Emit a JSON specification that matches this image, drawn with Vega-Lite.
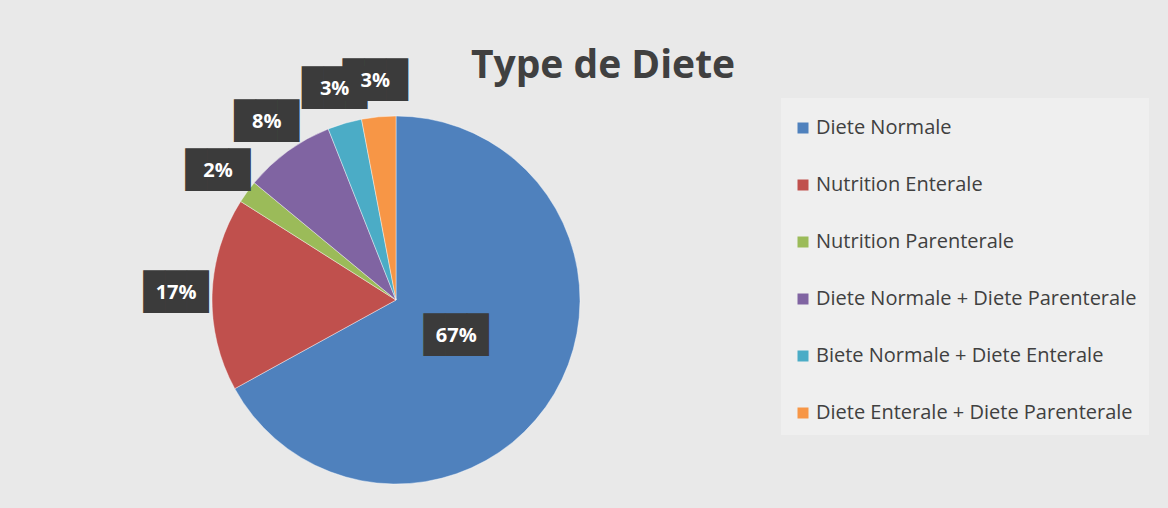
{
  "$schema": "https://vega.github.io/schema/vega-lite/v6.json",
  "width": 776,
  "height": 368,
  "autosize": {"type": "none"},
  "padding": {"left": 8, "top": 116, "right": 384, "bottom": 24},
  "background": "#e9e9e9",
  "title": {
    "text": "Type de Diete",
    "font": "Open Sans",
    "fontSize": 39,
    "fontWeight": "bold",
    "color": "#404040",
    "dx": 207,
    "offset": -23
  },
  "data": {
    "values": [
      {"category": "Diete Normale", "share": 0.67},
      {"category": "Nutrition Enterale", "share": 0.17},
      {"category": "Nutrition Parenterale", "share": 0.02},
      {"category": "Diete Normale + Diete Parenterale", "share": 0.08},
      {"category": "Biete Normale + Diete Enterale", "share": 0.03},
      {"category": "Diete Enterale + Diete Parenterale", "share": 0.03}
    ]
  },
  "transform": [{"window": [{"op": "row_number", "as": "idx"}]}],
  "encoding": {
    "theta": {"field": "share", "type": "quantitative", "stack": true},
    "order": {"field": "idx", "type": "quantitative"}
  },
  "layer": [
    {
      "mark": {"type": "arc", "outerRadius": 184, "stroke": "#ffffff", "strokeWidth": 0.6, "strokeOpacity": 0.7},
      "encoding": {
        "color": {
          "field": "category",
          "type": "nominal",
          "sort": null,
          "scale": {
            "domain": ["Diete Normale", "Nutrition Enterale", "Nutrition Parenterale", "Diete Normale + Diete Parenterale", "Biete Normale + Diete Enterale", "Diete Enterale + Diete Parenterale"],
            "range": ["#4f81bd", "#c0504d", "#9bbb59", "#8064a2", "#4bacc6", "#f79646"]
          },
          "legend": {
            "title": " ",
            "titleFontSize": 4,
            "titlePadding": 4,
            "orient": "none",
            "legendX": 773,
            "legendY": -18,
            "padding": 12,
            "fillColor": "#efefef",
            "symbolType": "square",
            "symbolSize": 121,
            "symbolStrokeWidth": 0,
            "labelFont": "Open Sans",
            "labelFontSize": 20,
            "labelColor": "#404040",
            "labelOffset": 3,
            "labelLimit": 400,
            "rowPadding": 37
          }
        }
      }
    },
    {
      "mark": {"type": "text", "font": "DejaVu Sans Mono", "fontSize": 36, "fill": "#3b3b3b", "align": "center", "baseline": "middle", "text": "███"},
      "encoding": {
        "radius": {"value": 70},
        "opacity": {"condition": {"test": "datum.category === 'Diete Normale'", "value": 1}, "value": 0}
      }
    },
    {
      "mark": {"type": "text", "font": "DejaVu Sans Mono", "fontSize": 36, "fill": "#3b3b3b", "align": "center", "baseline": "middle", "text": "███"},
      "encoding": {
        "radius": {"value": 220},
        "opacity": {"condition": {"test": "datum.category === 'Diete Normale'", "value": 0}, "value": 1}
      }
    },
    {
      "mark": {"type": "text", "font": "Open Sans", "fontSize": 20, "fontWeight": "bold", "fill": "#ffffff", "align": "center", "baseline": "middle"},
      "encoding": {
        "radius": {"value": 70},
        "text": {"field": "share", "type": "quantitative", "format": ".0%"},
        "opacity": {"condition": {"test": "datum.category === 'Diete Normale'", "value": 1}, "value": 0}
      }
    },
    {
      "mark": {"type": "text", "font": "Open Sans", "fontSize": 20, "fontWeight": "bold", "fill": "#ffffff", "align": "center", "baseline": "middle"},
      "encoding": {
        "radius": {"value": 220},
        "text": {"field": "share", "type": "quantitative", "format": ".0%"},
        "opacity": {"condition": {"test": "datum.category === 'Diete Normale'", "value": 0}, "value": 1}
      }
    }
  ],
  "config": {"view": {"stroke": null}}
}
